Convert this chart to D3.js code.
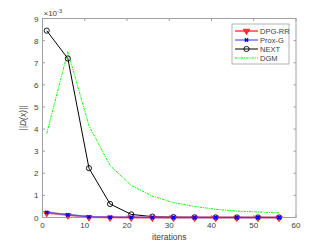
<!DOCTYPE html>
<html><head><meta charset="utf-8">
<script src="https://cdn.jsdelivr.net/npm/d3@7"></script>
<style>body{margin:0;background:#fff}svg{display:block}text{font-family:"Liberation Sans",Arial,sans-serif}</style>
</head><body><svg id="c" width="327" height="245"></svg>
<script>
const iterations = [1,6,11,16,21,26,31,36,41,46,51,56];
const dpgrr = [0.21,0.11,0.02,0.01,0.005,0.003,0.002,0.001,0.001,0.001,0.001,0.001];
const proxg = [0.23,0.12,0.03,0.012,0.006,0.003,0.002,0.001,0.001,0.001,0.001,0.001];
const next  = [8.45,7.19,2.23,0.61,0.14,0.04,0.02,0.01,0.005,0.003,0.002,0.001];
const dgm   = [3.8,7.5,4.15,2.35,1.45,0.97,0.67,0.5,0.37,0.29,0.25,0.21];
const xTicks = [0,10,20,30,40,50,60];
const yTicks = [0,1,2,3,4,5,6,7,8,9];
const legendNames = ["DPG-RR","Prox-G","NEXT","DGM"];

const svg = d3.select("#c");
const L=42.5,R=296,T=18.5,B=217.5;
const x = d3.scaleLinear().domain([0,60]).range([L,R]);
const y = d3.scaleLinear().domain([0,9]).range([B,T]);
const axCol="#a0a0a0", txtCol="#404040";
const dash="2.5,1,1,1";

svg.append("rect").attr("x",L).attr("y",T).attr("width",R-L).attr("height",B-T).attr("fill","none").attr("stroke",axCol).attr("stroke-width",1);
const g = svg.append("g");
xTicks.forEach(t=>{
  g.append("line").attr("x1",x(t)).attr("x2",x(t)).attr("y1",B).attr("y2",B-2.5).attr("stroke",axCol);
  g.append("line").attr("x1",x(t)).attr("x2",x(t)).attr("y1",T).attr("y2",T+2.5).attr("stroke",axCol);
  g.append("text").attr("x",x(t)).attr("y",B+10).attr("text-anchor","middle").attr("font-size",8).attr("fill",txtCol).text(t);
});
yTicks.forEach(t=>{
  g.append("line").attr("x1",L).attr("x2",L+2.5).attr("y1",y(t)).attr("y2",y(t)).attr("stroke",axCol);
  g.append("line").attr("x1",R).attr("x2",R-2.5).attr("y1",y(t)).attr("y2",y(t)).attr("stroke",axCol);
  g.append("text").attr("x",L-4).attr("y",y(t)+3).attr("text-anchor","end").attr("font-size",8).attr("fill",txtCol).text(t);
});
const ex = svg.append("text").attr("x",L+1).attr("y",T-3).attr("font-size",8).attr("fill",txtCol);
ex.append("tspan").text("\u00d710");
ex.append("tspan").attr("font-size",5.5).attr("dy",-3).text("-3");
svg.append("text").attr("x",(L+R)/2).attr("y",240).attr("text-anchor","middle").attr("font-size",8.5).attr("fill",txtCol).text("iterations");
svg.append("text").attr("transform",`translate(26,${(T+B)/2}) rotate(-90)`).attr("text-anchor","middle").attr("font-size",8.5).attr("fill",txtCol).attr("font-style","italic").text("||D(x)||");

const line = d3.line().x((d,i)=>x(iterations[i])).y(d=>y(d));
svg.append("path").attr("d",line(dgm)).attr("fill","none").attr("stroke","#00ff00").attr("stroke-width",1).attr("stroke-dasharray",dash);
svg.append("path").attr("d",line(next)).attr("fill","none").attr("stroke","#000").attr("stroke-width",1);
svg.selectAll(".nc").data(next).enter().append("circle").attr("cx",(d,i)=>x(iterations[i])).attr("cy",d=>y(d)).attr("r",2.6).attr("fill","none").attr("stroke","#000").attr("stroke-width",0.9);
svg.append("path").attr("d",line(dpgrr)).attr("fill","none").attr("stroke","#ff7070").attr("stroke-width",2.5).attr("opacity",0.7);
const tri = d3.symbol().type(d3.symbolTriangle).size(18);
svg.selectAll(".tr").data(dpgrr).enter().append("path").attr("d",tri).attr("transform",(d,i)=>`translate(${x(iterations[i])},${y(d)+0.5}) rotate(180)`).attr("fill","#ff3030").attr("stroke","#ff0000").attr("stroke-width",0.6);
svg.append("path").attr("d",line(proxg)).attr("fill","none").attr("stroke","#3030ff").attr("stroke-width",1.5).attr("opacity",0.75);
const cross = d3.symbol().type(d3.symbolCross).size(12);
svg.selectAll(".px").data(proxg).enter().append("path").attr("d",cross).attr("transform",(d,i)=>`translate(${x(iterations[i])},${y(d)}) rotate(45)`).attr("fill","#0000ff");

const lg = svg.append("g");
lg.append("rect").attr("x",232).attr("y",24).attr("width",57).attr("height",40).attr("fill","#fff").attr("stroke","#a0a0a0").attr("stroke-width",0.8);
const ly = [31,40,49,58];
const cols = ["#ff7070","#3030ff","#000","#00ff00"];
legendNames.forEach((n,i)=>{
  const yy=ly[i];
  const l=lg.append("line").attr("x1",235).attr("x2",258).attr("y1",yy).attr("y2",yy).attr("stroke",cols[i]).attr("stroke-width",i===0?2:1);
  if(i===3) l.attr("stroke-dasharray",dash);
  if(i===0) lg.append("path").attr("d",tri).attr("transform",`translate(246.5,${yy}) rotate(180)`).attr("fill","#ff3030").attr("stroke","#ff0000").attr("stroke-width",0.6);
  if(i===1) lg.append("path").attr("d",cross).attr("transform",`translate(246.5,${yy}) rotate(45)`).attr("fill","#0000ff");
  if(i===2) lg.append("circle").attr("cx",246.5).attr("cy",yy).attr("r",2.6).attr("fill","none").attr("stroke","#000").attr("stroke-width",0.9);
  lg.append("text").attr("x",260).attr("y",yy+2.8).attr("font-size",7.5).attr("fill",txtCol).text(n);
});
</script></body></html>
